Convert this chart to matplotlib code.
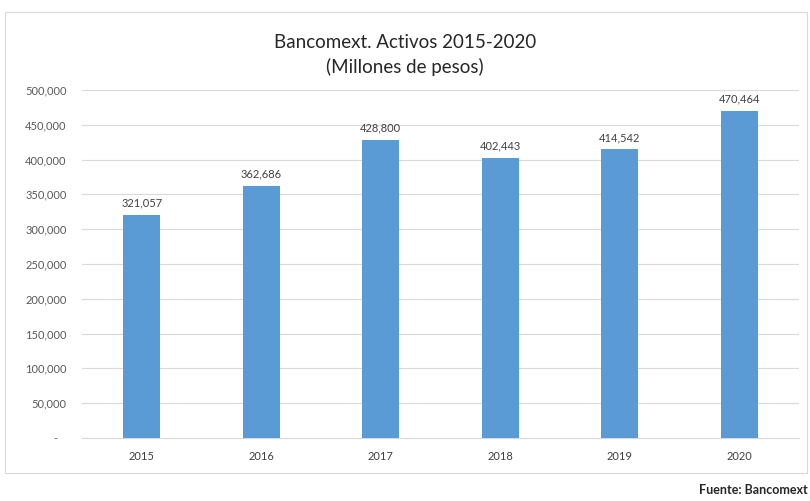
import matplotlib.pyplot as plt
from matplotlib.patches import Rectangle
from matplotlib.ticker import FuncFormatter

years = ['2015', '2016', '2017', '2018', '2019', '2020']
activos = [321057, 362686, 428800, 402443, 414542, 470464]
yticks = [0, 50000, 100000, 150000, 200000, 250000, 300000, 350000, 400000, 450000, 500000]

plt.rcParams['font.family'] = ['Lato', 'DejaVu Sans']

fig = plt.figure(figsize=(8.1, 5.01), dpi=100)
fig.patch.set_facecolor('white')

# chart frame
fig.patches.append(Rectangle((5 / 810, 1 - 473 / 501), 802 / 810, 461 / 501,
                             transform=fig.transFigure, fill=False,
                             edgecolor='#D9D9D9', linewidth=0.8))

ax = fig.add_axes([82 / 810, 1 - 438 / 501, 717 / 810, 348 / 501])
x = range(len(years))
bars = ax.bar(x, activos, width=0.31, color='#5B9BD5', zorder=3)

for b, v in zip(bars, activos):
    ax.text(b.get_x() + b.get_width() / 2, v + 9000, f'{v:,}',
            ha='center', va='bottom', fontsize=8, color='#404040')

ax.set_xlim(-0.5, len(years) - 0.5)
ax.set_ylim(0, 500000)
ax.set_xticks(list(x))
ax.set_xticklabels(years, fontsize=8, color='#404040')
ax.set_yticks(yticks)
# accounting style: zero shown as a dash, right-aligned numbers
ax.yaxis.set_major_formatter(FuncFormatter(lambda v, p: '-' if v == 0 else f'{int(v):,}'))
ax.tick_params(axis='y', labelsize=8, labelcolor='#595959', length=0, pad=11)
ax.tick_params(axis='x', length=0, pad=9)
ax.grid(axis='y', color='#D9D9D9', linewidth=0.8, zorder=0)
for s in ['top', 'right', 'left']:
    ax.spines[s].set_visible(False)
ax.spines['bottom'].set_color('#D9D9D9')
fig.canvas.draw()
for lbl in ax.get_yticklabels():
    if lbl.get_text() == '-':
        lbl.set_x(-0.0125)

fig.text(0.5, 1 - 42 / 501, 'Bancomext. Activos 2015-2020', ha='center', va='center',
         fontsize=13.5, color='#262626')
fig.text(0.5, 1 - 67 / 501, '(Millones de pesos)', ha='center', va='center',
         fontsize=13.5, color='#262626')
fig.text(808 / 810, 1 - 490 / 501, 'Fuente: Bancomext', ha='right', va='center',
         fontsize=9, fontweight='bold', color='#262626')

fig.savefig('out.png', dpi=100)
